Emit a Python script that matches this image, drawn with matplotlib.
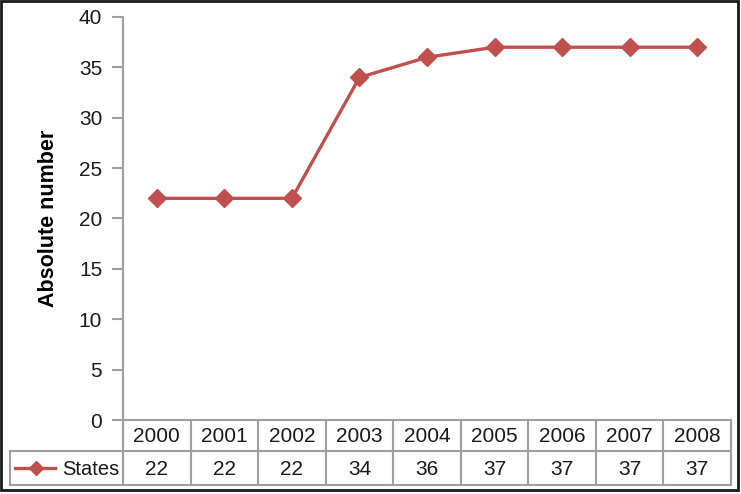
import matplotlib.pyplot as plt
from matplotlib.patches import Rectangle

plt.rcParams['font.family'] = ['Liberation Sans', 'DejaVu Sans']

# dados
anos = ['2000', '2001', '2002', '2003', '2004', '2005', '2006', '2007', '2008']
estados = [22, 22, 22, 34, 36, 37, 37, 37, 37]
serie_nome = 'States'
y_ticks = [0, 5, 10, 15, 20, 25, 30, 35, 40]

cor_linha = '#C0504D'
cor_grade = '#A0A0A0'
cor_texto = '#1a1a1a'
fs = 15

W, H = 741, 494
fig = plt.figure(figsize=(W / 100, H / 100), dpi=100)

# eixo principal (posicoes em pixels)
x0, x1, y_base, y_top = 123, 731, 420, 17
ax = fig.add_axes([x0 / W, (H - y_base) / H, (x1 - x0) / W, (y_base - y_top) / H])
x = list(range(len(anos)))
ax.plot(x, estados, color=cor_linha, linewidth=2.4, marker='D', markersize=9.5,
        clip_on=False, zorder=3)
ax.set_xlim(-0.5, len(anos) - 0.5)
ax.set_ylim(0, 40)
ax.set_yticks(y_ticks)
ax.set_xticks([])
for s in ['top', 'right', 'bottom']:
    ax.spines[s].set_visible(False)
ax.spines['left'].set_color(cor_grade)
ax.spines['left'].set_linewidth(1.5)
ax.tick_params(axis='y', length=8, width=1.5, color=cor_grade, pad=7, labelsize=fs,
               labelcolor=cor_texto)
ax.set_ylabel('Absolute number', fontsize=15.5, fontweight='bold', labelpad=14)

# tabela de dados abaixo do grafico
tab_left, row1_bot, row2_bot = 10, 451, 485
tab = fig.add_axes([0, 0, 1, 1])
tab.set_xlim(0, W)
tab.set_ylim(H, 0)
tab.axis('off')
larg = (x1 - x0) / len(anos)
kw = dict(color=cor_grade, linewidth=1.5)
# linhas horizontais
tab.plot([x0, x1], [y_base, y_base], **kw)
tab.plot([tab_left, x1], [row1_bot, row1_bot], **kw)
tab.plot([tab_left, x1], [row2_bot, row2_bot], **kw)
# linhas verticais
tab.plot([tab_left, tab_left], [row1_bot, row2_bot], **kw)
for i in range(len(anos) + 1):
    xc = x0 + i * larg
    tab.plot([xc, xc], [y_base, row2_bot], **kw)
# textos
for i, (a, v) in enumerate(zip(anos, estados)):
    xc = x0 + (i + 0.5) * larg
    tab.text(xc, (y_base + row1_bot) / 2 + 1, a, ha='center', va='center', fontsize=fs,
             color=cor_texto)
    tab.text(xc, (row1_bot + row2_bot) / 2 + 1, str(v), ha='center', va='center', fontsize=fs,
             color=cor_texto)
ym = (row1_bot + row2_bot) / 2
tab.plot([15, 55], [ym, ym], color=cor_linha, linewidth=2.4)
tab.plot([36], [ym], color=cor_linha, marker='D', markersize=7.5)
tab.text(x0 - 4, ym + 1, serie_nome, ha='right', va='center', fontsize=14.5, color=cor_texto)

# moldura externa
fig.patches.append(Rectangle((1 / W, 4 / H), (W - 4) / W, (H - 5) / H,
                             transform=fig.transFigure, fill=False,
                             edgecolor=cor_texto, linewidth=2))

fig.savefig('out.png', dpi=100)
